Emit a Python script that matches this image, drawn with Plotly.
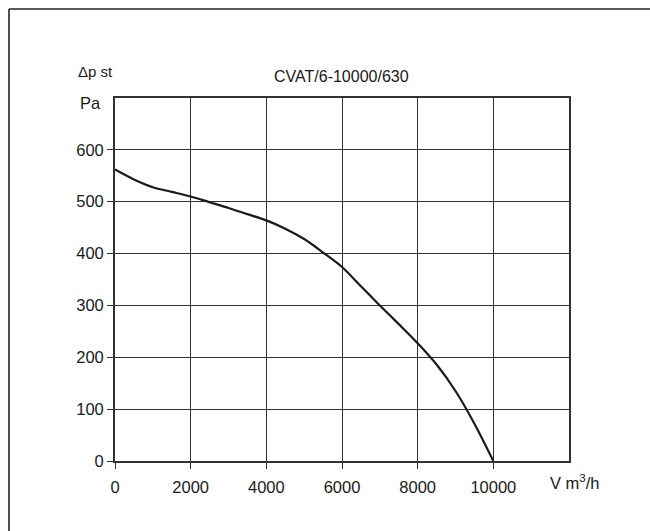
import plotly.graph_objects as go

# Fan curve: static pressure vs. air volume
flow_m3h = [0, 500, 1000, 1500, 2000, 2500, 3000, 3500, 4000, 4500, 5000,
            5500, 6000, 6500, 7000, 7500, 8000, 8500, 9000, 9500, 10000]
pressure_pa = [562, 543, 528, 519, 510, 499, 488, 476, 464, 448, 428,
               402, 374, 337, 300, 264, 227, 186, 135, 72, 0]

x_ticks = [0, 2000, 4000, 6000, 8000, 10000]
y_ticks = [0, 100, 200, 300, 400, 500, 600]

title_text = "CVAT/6-10000/630"
y_unit_top = "Δp st"
y_unit = "Pa"
x_unit = "V m<sup>3</sup>/h"

W, H = 650, 531
ML, MR, MT, MB = 115, 81, 98, 70
PW, PH = W - ML - MR, H - MT - MB


def px(x):
    return (x - ML) / PW


def py(y):
    return (H - MB - y) / PH


FONT = "Liberation Sans, Arial, Helvetica, sans-serif"
INK = "#1a1a1a"
GRID = "#333333"

fig = go.Figure()
fig.add_trace(go.Scatter(
    x=flow_m3h, y=pressure_pa, mode="lines",
    line=dict(color=INK, width=2.2, shape="spline", smoothing=0.9),
    hoverinfo="skip", showlegend=False,
))

fig.update_layout(
    width=W, height=H,
    margin=dict(l=ML, r=MR, t=MT, b=MB, pad=0),
    paper_bgcolor="white", plot_bgcolor="white",
    font=dict(family=FONT, size=16.5, color=INK),
    xaxis=dict(
        range=[0, 12000], tickvals=x_ticks, ticktext=[str(v) for v in x_ticks],
        showgrid=True, gridcolor=GRID, gridwidth=1.3,
        showline=True, linecolor=GRID, linewidth=1.8, mirror=True,
        ticks="outside", ticklen=6, tickcolor=GRID, tickwidth=1.3,
        ticklabelstandoff=4, zeroline=False, fixedrange=True,
    ),
    yaxis=dict(
        range=[0, 700], tickvals=y_ticks, ticktext=[str(v) for v in y_ticks],
        showgrid=True, gridcolor=GRID, gridwidth=1.3,
        showline=True, linecolor=GRID, linewidth=1.8, mirror=True,
        ticks="outside", ticklen=6, tickcolor=GRID, tickwidth=1.3,
        zeroline=False, fixedrange=True,
    ),
    annotations=[
        dict(text=title_text, x=px(341), y=py(77), xref="paper", yref="paper",
             showarrow=False, xanchor="center", yanchor="middle",
             font=dict(size=16, color=INK)),
        dict(text=y_unit_top, x=px(76), y=py(71), xref="paper", yref="paper",
             showarrow=False, xanchor="left", yanchor="middle",
             font=dict(size=15, color=INK)),
        dict(text=y_unit, x=px(103), y=py(103), xref="paper", yref="paper",
             showarrow=False, xanchor="right", yanchor="middle",
             font=dict(size=16.5, color=INK)),
        dict(text=x_unit, x=px(548), y=py(482), xref="paper", yref="paper",
             showarrow=False, xanchor="left", yanchor="middle",
             font=dict(size=16.5, color=INK)),
    ],
    shapes=[
        # frame around the sheet (left and top edges visible)
        dict(type="line", xref="paper", yref="paper",
             x0=px(9), x1=px(9), y0=py(9), y1=py(560),
             line=dict(color="#222222", width=1.6)),
        dict(type="line", xref="paper", yref="paper",
             x0=px(9), x1=px(680), y0=py(9), y1=py(9),
             line=dict(color="#222222", width=1.6)),
    ],
)

fig.write_html("out.html")
